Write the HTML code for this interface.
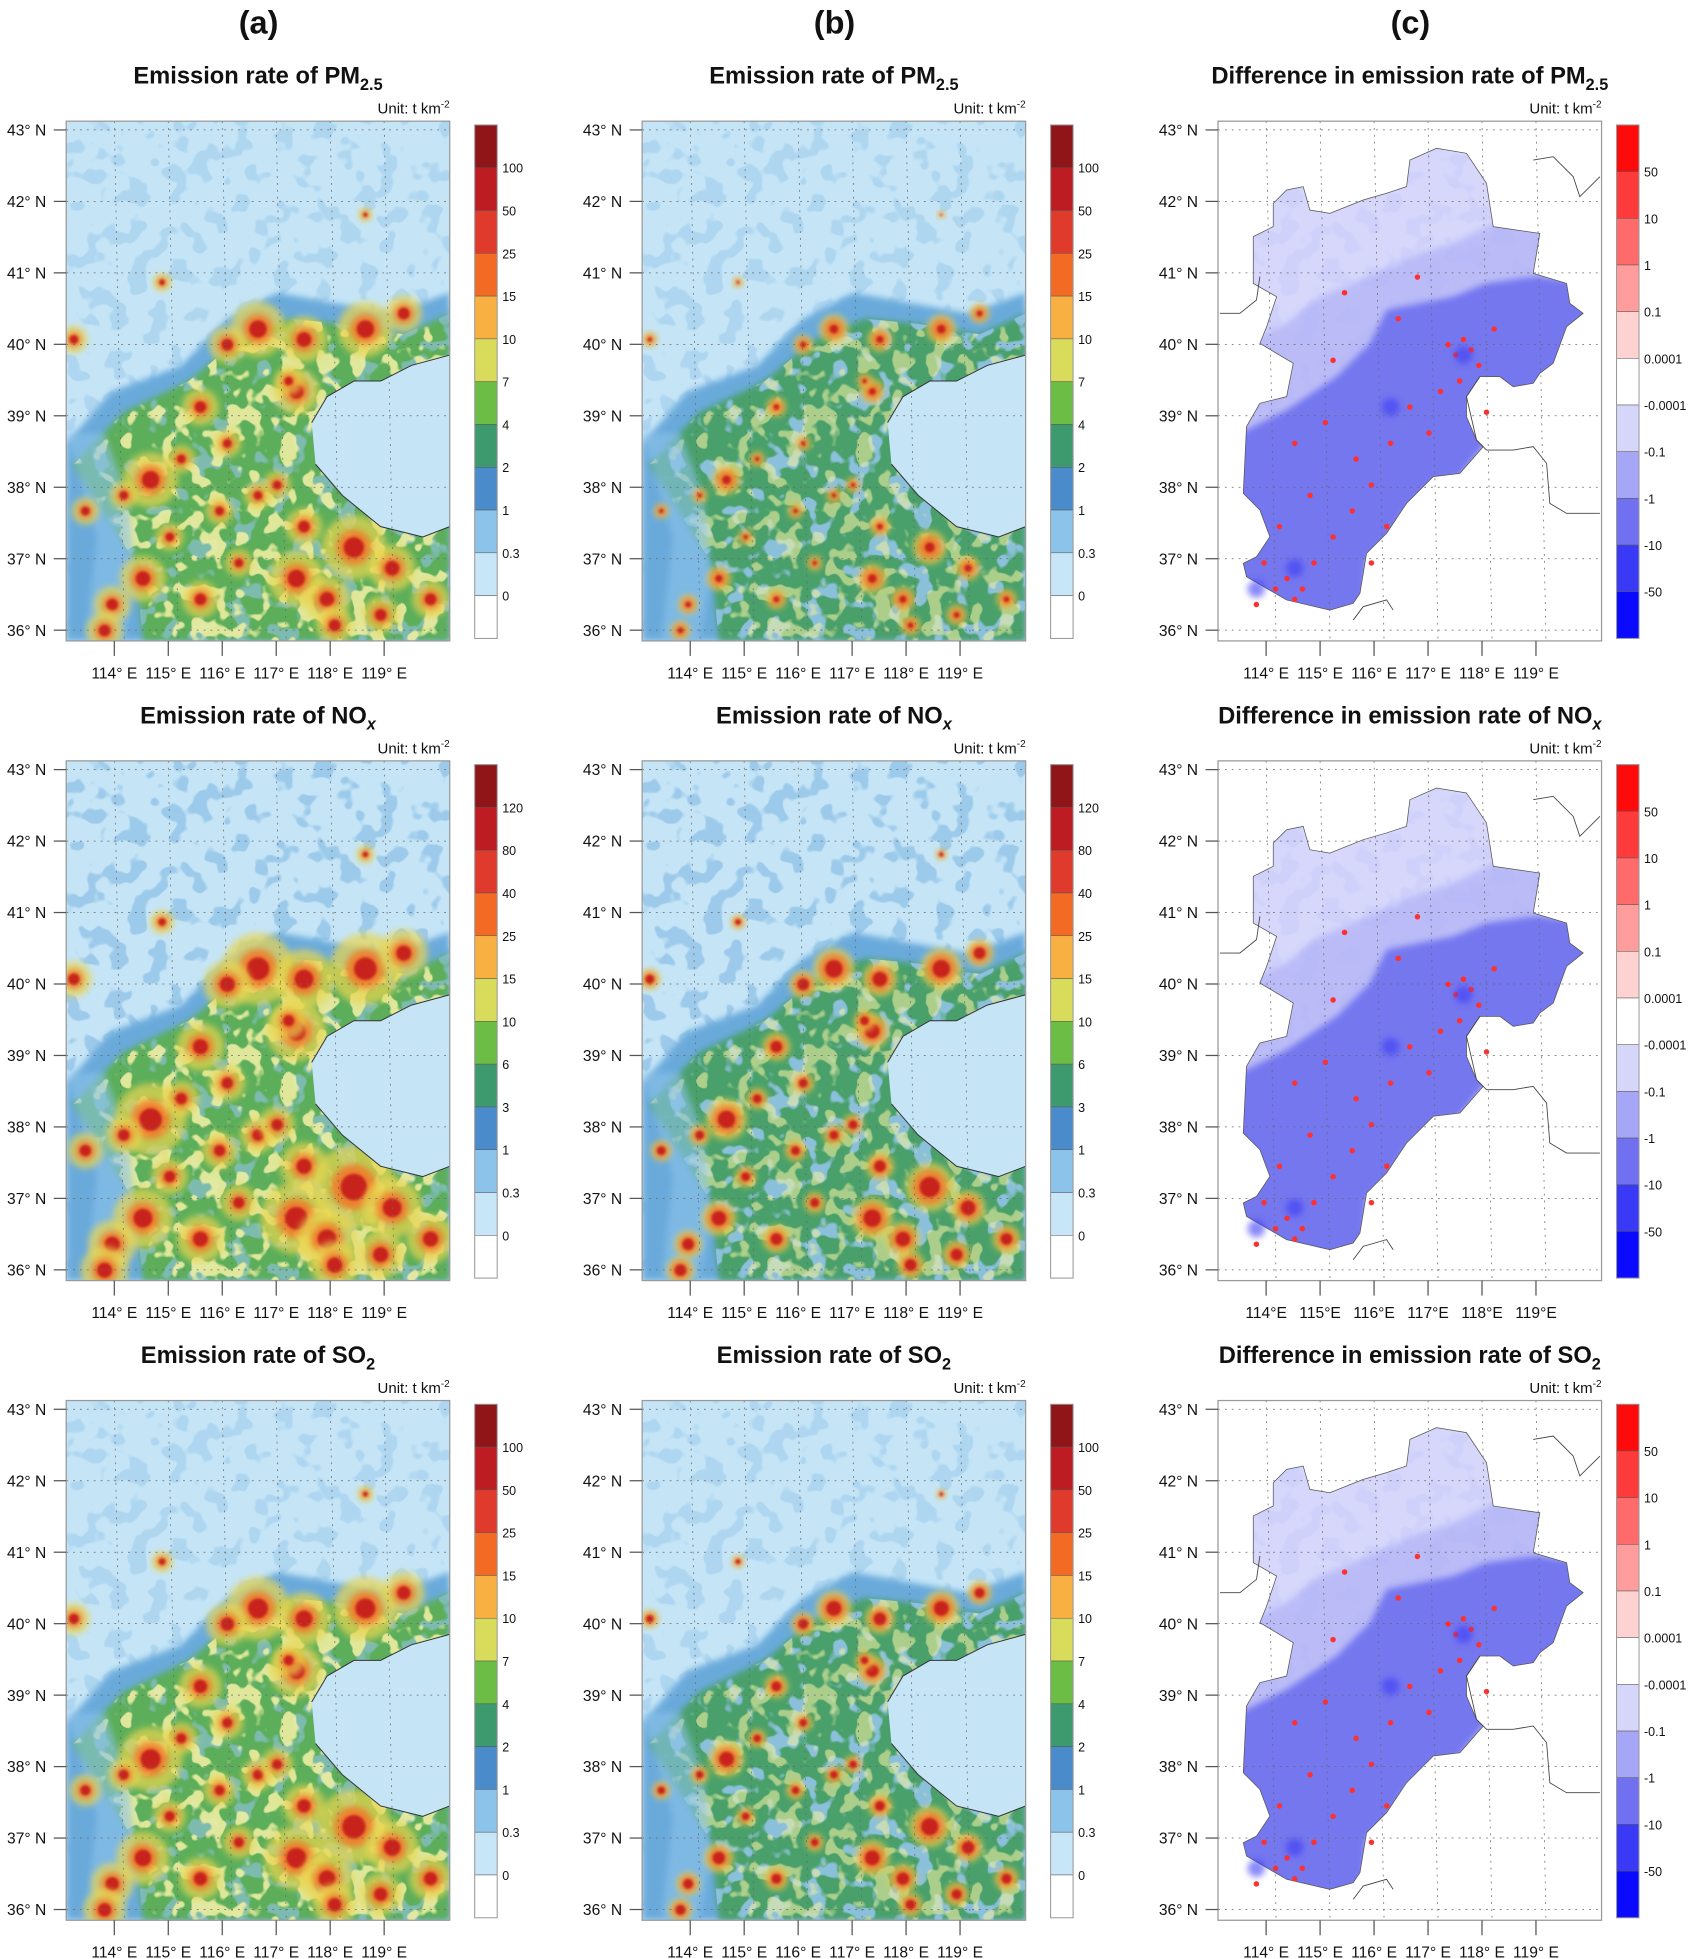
<!DOCTYPE html>
<html><head><meta charset="utf-8"><style>
html,body{margin:0;padding:0;background:#fff;}
svg{display:block;font-family:"Liberation Sans",sans-serif;}
</style></head><body>
<svg id="fig" width="1689" height="1959" viewBox="0 0 1352 1568" preserveAspectRatio="none" xmlns="http://www.w3.org/2000/svg">
<defs>
<filter id="bl" x="-50%" y="-50%" width="200%" height="200%"><feGaussianBlur stdDeviation="2.5"/></filter>
<filter id="bl2" x="-50%" y="-50%" width="200%" height="200%"><feGaussianBlur stdDeviation="1"/></filter>
<filter id="spY" x="0" y="0" width="100%" height="100%"><feTurbulence type="fractalNoise" baseFrequency="0.07" numOctaves="2" seed="3"/><feColorMatrix type="matrix" values="0 0 0 0 0.85  0 0 0 0 0.86  0 0 0 0 0.36  14 0 0 0 -7.6"/><feComposite in2="SourceGraphic" operator="in"/></filter>
<filter id="spB" x="0" y="0" width="100%" height="100%"><feTurbulence type="fractalNoise" baseFrequency="0.06" numOctaves="2" seed="9"/><feColorMatrix type="matrix" values="0 0 0 0 0.29  0 0 0 0 0.55  0 0 0 0 0.8  14 0 0 0 -7.8"/><feComposite in2="SourceGraphic" operator="in"/></filter>
<filter id="spP" x="0" y="0" width="100%" height="100%"><feTurbulence type="fractalNoise" baseFrequency="0.06" numOctaves="2" seed="9"/><feColorMatrix type="matrix" values="0 0 0 0 0.62  0 0 0 0 0.63  0 0 0 0 0.96  14 0 0 0 -7.4"/><feComposite in2="SourceGraphic" operator="in"/></filter>
</defs>
</svg>
<script>
const NS='http://www.w3.org/2000/svg';
const svg=document.getElementById('fig');
// ---- data ----
const latTicks=[43,42,41,40,39,38,37,36];
const lonTicks=[114,115,116,117,118,119];
const pmLabels=['100','50','25','15','10','7','4','2','1','0.3','0'];
const noxLabels=['120','80','40','25','15','10','6','3','1','0.3','0'];
const so2Labels=['100','50','25','15','10','7','4','2','1','0.3','0'];
const diffLabels=['50','10','1','0.1','0.0001','-0.0001','-0.1','-1','-10','-50'];
const absColors=['#8f1519','#bd1c23','#df3a2b','#f26a24','#f8b043','#d9dc5b','#6bbd45','#3d9a6e','#4a8ccb','#8cc3ea','#c7e6f8','#ffffff'];
const diffColors=['#ff0a0a','#ff3a3a','#ff6a6a','#ff9c9c','#ffd2d2','#ffffff','#d6d6fb','#a6a6f6','#7070f0','#3a3af6','#0a0aff'];
// city hotspots: [nx, ny, relative size]
const hotX=[0.5,0.42,0.62,0.78,0.88,0.6,0.58,0.22,0.15,0.35,0.42,0.3,0.62,0.6,0.75,0.85,0.68,0.2,0.12,0.35,0.45,0.02,0.05,0.95,0.25,0.78,0.9,0.9,0.5,0.7,0.82,0.55,0.1,0.27,0.4];
const hotY=[0.4,0.43,0.42,0.4,0.37,0.52,0.5,0.69,0.72,0.55,0.62,0.65,0.78,0.88,0.82,0.86,0.92,0.88,0.93,0.92,0.85,0.42,0.75,0.92,0.31,0.18,0.55,0.7,0.72,0.97,0.95,0.7,0.98,0.8,0.75];
const hotR=[0.06,0.04,0.05,0.06,0.04,0.05,0.03,0.06,0.03,0.04,0.03,0.03,0.04,0.06,0.07,0.05,0.05,0.05,0.04,0.04,0.03,0.03,0.03,0.04,0.02,0.015,0.03,0.04,0.03,0.04,0.04,0.03,0.04,0.03,0.03];
// difference dots
const dotX=[0.6,0.62,0.64,0.66,0.68,0.63,0.2,0.22,0.18,0.25,0.3,0.35,0.4,0.45,0.15,0.12,0.1,0.16,0.5,0.55,0.28,0.33,0.47,0.52,0.58,0.7,0.72,0.4,0.36,0.24,0.3,0.2,0.44];
const dotY=[0.43,0.45,0.42,0.44,0.47,0.5,0.92,0.9,0.88,0.85,0.8,0.75,0.7,0.62,0.9,0.85,0.93,0.78,0.55,0.6,0.58,0.33,0.38,0.3,0.52,0.56,0.4,0.85,0.65,0.72,0.46,0.62,0.78];

function el(tag,attrs,parent){const e=document.createElementNS(NS,tag);for(const k in attrs)e.setAttribute(k,attrs[k]);(parent||svg).appendChild(e);return e;}
function txt(x,y,s,size,anchor,weight,parent){const t=el('text',{x:x,y:y,'font-size':size,'text-anchor':anchor||'start','font-weight':weight||'normal',fill:'#111'},parent);t.textContent=s;return t;}

const cols=[53,514,975], rows=[97,609,1121], MW=307, MH=416;
const hebei=[[650,115],[740,130],[800,220],[820,350],[960,370],[940,490],[1040,520],[1050,580],[1090,610],[1040,650],[1000,760],[960,790],[940,820],[880,830],[840,800],[780,800],[740,860],[740,920],[770,990],[790,1010],[720,1090],[640,1100],[560,1180],[500,1270],[440,1330],[420,1450],[400,1480],[330,1500],[200,1470],[80,1400],[70,1360],[110,1340],[150,1280],[120,1200],[70,1150],[80,950],[120,880],[200,860],[220,760],[120,700],[140,650],[170,560],[100,520],[100,380],[160,350],[160,280],[200,240],[250,230],[270,300],[330,310],[430,270],[500,250],[560,230],[570,150]];
const south=[[40,980],[200,900],[350,800],[450,700],[500,600],[600,580],[700,560],[800,520],[950,500],[1100,520],[1120,700],[1000,800],[900,900],[800,1000],[720,1100],[640,1120],[560,1200],[500,1290],[440,1350],[430,1550],[0,1550]];
const mid=[[60,700],[200,640],[300,560],[450,500],[600,430],[700,400],[820,340],[1100,340],[1100,800],[800,900],[600,1000],[400,1100],[200,950],[50,980]];
function pz(a){return a.map(p=>(p[0]*0.2668+1.5).toFixed(1)+','+(p[1]*0.2668-8.95).toFixed(1)).join(' ');}
function pn(a){return a.map(p=>(p[0]*MW).toFixed(1)+','+(p[1]*MH).toFixed(1)).join(' ');}

const titles=[['Emission rate of PM','2.5'],['Emission rate of NO','x'],['Emission rate of SO','2']];
const labelSets=[pmLabels,noxLabels,so2Labels];
const heat=[[1,0.7],[1.3,1.0],[1.15,0.85]];
const greenPoly=[[0.02,0.66],[0.15,0.56],[0.32,0.5],[0.45,0.42],[0.58,0.38],[0.72,0.39],[0.88,0.41],[1,0.37],[1,1],[0.2,1],[0.18,0.85]];

['(a)','(b)','(c)'].forEach((s,i)=>{const t=txt(cols[i]+154,27,s,26,'middle','bold');});

rows.forEach((top,r)=>{cols.forEach((left,c)=>{
  const g=el('g',{transform:`translate(${left},${top})`});
  
  
  const cid=`clip${r}${c}`;
  const cp=el('clipPath',{id:cid},g);el('rect',{x:0,y:0,width:MW,height:MH},cp);
  const m=el('g',{'clip-path':`url(#${cid})`},g);
  const tt=el('text',{x:MW/2,y:-30,'font-size':19,'text-anchor':'middle','font-weight':'bold',fill:'#111'},g);
  
  
  tt.textContent=(c==2?'Difference in emission rate of ':'Emission rate of ')+titles[r][0].replace('Emission rate of ','');
  const sub=el('tspan',{'font-size':13,dy:5,'font-style':r==1?'italic':'normal'},tt);sub.textContent=titles[r][1];
  const u=txt(MW,-6,'Unit: t km',12,'end','normal',g);const us=el('tspan',{'font-size':8,dy:-5},u);us.textContent='-2';
  
  if(c<2){
    const h=heat[r][c];
    el('rect',{x:0,y:0,width:MW,height:MH,fill:'#c5e5f7'},m);
    el('rect',{x:0,y:0,width:MW,height:MH,fill:'#fff',filter:'url(#spB)',opacity:r==1?0.8:0.45},m);
    el('polygon',{points:pn([[0,0.62],[0.12,0.52],[0.3,0.47],[0.42,0.38],[0.55,0.33],[0.7,0.35],[0.85,0.37],[1,0.33],[1,1],[0,1]]),fill:'#6aaadb',filter:'url(#bl)'},m);
    el('polygon',{points:pn(greenPoly),fill:c==0?'#5cae5a':'#49a06a',filter:'url(#bl)'},m);
    el('polygon',{points:pn(greenPoly),fill:'#fff',filter:'url(#spB)',opacity:c==0?0.6:0.9},m);
    el('polygon',{points:pn(greenPoly),fill:'#fff',filter:'url(#spY)',opacity:c==0?0.9:0.6},m);
    el('polygon',{points:pn([[0,0.6],[0.1,0.6],[0.16,0.72],[0.18,0.88],[0.15,1],[0.05,1],[0.08,0.8]]),fill:'#8cc3ea',opacity:0.6,filter:'url(#bl)'},m);
    for(let i=0;i<hotX.length;i++){
      const x=hotX[i]*MW,y=hotY[i]*MH,rr=hotR[i]*MW*h;
      el('circle',{cx:x,cy:y,r:rr*(c==0?1.2:0.9),fill:'#e9d651',opacity:0.7,filter:'url(#bl)'},m);
      el('circle',{cx:x,cy:y,r:rr*0.65,fill:'#f07a2a',opacity:0.9,filter:'url(#bl)'},m);
      el('circle',{cx:x,cy:y,r:rr*0.38*(r==0&&c==1?0.7:1),fill:'#c8201f',filter:'url(#bl2)'},m);
    }
    el('polygon',{points:pn([[0.64,0.58],[0.68,0.53],[0.75,0.5],[0.82,0.5],[0.9,0.47],[1,0.45],[1,0.78],[0.93,0.8],[0.82,0.78],[0.72,0.72],[0.65,0.66]]),fill:'#c5e5f7'},m);
    el('polyline',{points:pn([[0.64,0.58],[0.68,0.53],[0.75,0.5],[0.82,0.5],[0.9,0.47],[1,0.45]]),fill:'none',stroke:'#333','stroke-width':0.8},m);
    el('polyline',{points:pn([[0.65,0.66],[0.72,0.72],[0.82,0.78],[0.93,0.8],[1,0.78]]),fill:'none',stroke:'#333','stroke-width':0.8},m);
  } else {
    el('rect',{x:0,y:0,width:MW,height:MH,fill:'#ffffff'},m);
    const hid=`heb${r}`;
    const hc=el('clipPath',{id:hid},g);el('polygon',{points:pz(hebei)},hc);
    const hg=el('g',{'clip-path':`url(#${hid})`},m);
    el('rect',{x:0,y:0,width:MW,height:MH,fill:'#d6d7fb'},hg);
    el('rect',{x:0,y:0,width:MW,height:MH,fill:'#fff',filter:'url(#spP)',opacity:0.8},hg);
    el('polygon',{points:pz(mid),fill:'#a8aaf6',opacity:0.6,filter:'url(#bl)'},hg);
    el('polygon',{points:pz(south),fill:'#7577ef',filter:'url(#bl)'},hg);
    el('polygon',{points:pz(hebei),fill:'none',stroke:'#555','stroke-width':0.6},m);
    for(let i=0;i<dotX.length;i++){
      el('circle',{cx:dotX[i]*MW,cy:dotY[i]*MH,r:2.2,fill:'#ff3030'},m);
    }
    [[0.2,0.86],[0.45,0.55],[0.64,0.45],[0.1,0.9]].forEach(b=>el('circle',{cx:b[0]*MW,cy:b[1]*MH,r:7,fill:'#3a3af6',opacity:0.6,filter:'url(#bl)'},m));
    el('polyline',{points:pz([[940,150],[1000,140],[1060,200],[1080,260],[1140,200]]),fill:'none',stroke:'#444','stroke-width':0.7},m);
    el('polyline',{points:pz([[0,610],[60,610],[110,570],[120,500]]),fill:'none',stroke:'#444','stroke-width':0.7},m);
    el('polyline',{points:pz([[780,800],[740,860],[770,990],[800,1020],[880,1020],[940,1010],[980,1060],[990,1180],[1040,1210],[1140,1210]]),fill:'none',stroke:'#444','stroke-width':0.7},m);
    el('polyline',{points:pz([[400,1530],[430,1490],[500,1470],[520,1500]]),fill:'none',stroke:'#444','stroke-width':0.7},m);
  }
  latTicks.forEach(l=>{const y=7+(43-l)*57.2;el('line',{x1:0,x2:MW,y1:y,y2:y,stroke:'#666','stroke-width':0.6,'stroke-dasharray':'1.5 4'},m);});
  lonTicks.forEach(l=>{const x=38.5+(l-114)*43.2;el('line',{x1:x,x2:x+8,y1:0,y2:MH,stroke:'#666','stroke-width':0.6,'stroke-dasharray':'1.5 4'},m);});
  el('rect',{x:0,y:0,width:MW,height:MH,fill:'none',stroke:'#999','stroke-width':1},g);
  latTicks.forEach(l=>{const y=7+(43-l)*57.2;
    el('line',{x1:-10,x2:0,y1:y,y2:y,stroke:'#555','stroke-width':1},g);
    const t=txt(-16,y+4.5,l+'° N',12.5,'end','normal',g);});
  lonTicks.forEach(l=>{const x=38.5+(l-114)*43.2;
    el('line',{x1:x,x2:x,y1:MH,y2:MH+12,stroke:'#555','stroke-width':1},g);
    const t=txt(x,MH+30,l+(c==2&&r==1?'°E':'° E'),12.5,'middle','normal',g);});
  const cb=el('g',{transform:`translate(${c==2?319:327},3)`},g);
  
  
  const colors=c==2?diffColors:absColors, labs=c==2?diffLabels:labelSets[r];
  const sh=411/colors.length;
  colors.forEach((col,i)=>el('rect',{x:0,y:i*sh,width:18,height:sh,fill:col,stroke:'#555','stroke-width':0.4},cb));
  el('rect',{x:0,y:0,width:18,height:411,fill:'none',stroke:'#999','stroke-width':0.8},cb);
  labs.forEach((s,i)=>{const t=txt(22,(i+1)*sh+4,s,10,'start','normal',cb);});
});});
</script>
</body></html>
